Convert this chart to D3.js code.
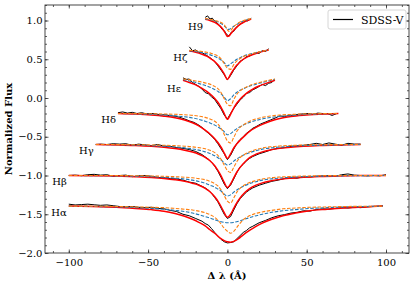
<!DOCTYPE html>
<html lang="en">
<head>
<meta charset="utf-8">
<title>Balmer lines</title>
<script src="https://d3js.org/d3.v7.min.js"></script>
<style>
  body { margin: 0; background: #fff; }
  text { font-family: "DejaVu Serif", serif; fill: #000; }
  .tick text { font-size: 10px; }
  .axis path.domain { display: none; }
  .axis line { stroke: #333; stroke-width: 0.8; }
</style>
</head>
<body>
<script>
// line order: bottom (Halpha) to top (H9)
var lineNames = ["Hα", "Hβ", "Hγ", "Hδ", "Hε", "Hζ", "H9"];
var offsets = [-2.4, -2.0, -1.6, -1.2, -0.8, -0.4, 0.0];

var xTicks = [-100, -50, 0, 50, 100];
var yTicks = [-2.0, -1.5, -1.0, -0.5, 0.0, 0.5, 1.0];

// model grid (delta lambda, Angstrom)
var modelX = [
  [-100,-85,-70,-58,-48,-40,-33,-27,-22,-18,-14,-11,-8,-5,-2,0,2,4,7,10,13,17,22,28,35,43,52,63,75,87,98],
  [-100,-85,-70,-58,-48,-40,-33,-27,-22,-18,-14,-11,-8,-6,-4,-2,0,2,4,6,8,11,14,18,22,27,33,40,48,58,70,85,100],
  [-83,-70,-58,-48,-40,-33,-27,-22,-18,-14,-11,-8,-6,-4,-2,0,2,4,6,8,11,14,18,22,27,33,40,48,58,70,84],
  [-69,-58,-48,-40,-33,-27,-22,-18,-14,-11,-8,-6,-4,-2,0,2,4,6,8,11,14,18,22,27,33,40,48,58,70],
  [-28,-24,-20,-16,-13,-10,-8,-6,-4,-2,0,2,4,6,8,10,13,16,20,24,30],
  [-24,-20,-16,-13,-10,-8,-6,-4,-2,0,2,4,6,8,10,13,16,20,26],
  [-14,-11,-8,-6,-4,-2,-1,0,1,2,4,6,8,11,15]
];
// combined model (red)
var modelRed = [
  [1.005,1.0,0.99,0.975,0.96,0.94,0.91,0.875,0.835,0.795,0.75,0.70,0.655,0.6,0.56,0.545,0.54,0.55,0.585,0.635,0.68,0.73,0.785,0.835,0.88,0.915,0.945,0.965,0.985,0.995,1.005],
  [1.0,0.998,0.993,0.985,0.975,0.962,0.945,0.925,0.9,0.875,0.835,0.79,0.725,0.67,0.6,0.52,0.46,0.5,0.575,0.65,0.71,0.78,0.83,0.875,0.905,0.93,0.95,0.965,0.978,0.988,0.995,0.999,1.0],
  [1.0,0.995,0.988,0.978,0.965,0.948,0.927,0.903,0.875,0.835,0.79,0.725,0.665,0.595,0.51,0.445,0.49,0.57,0.645,0.705,0.775,0.83,0.875,0.905,0.93,0.95,0.966,0.978,0.988,0.995,1.0],
  [1.0,0.992,0.98,0.965,0.945,0.915,0.88,0.84,0.785,0.735,0.675,0.625,0.565,0.49,0.42,0.48,0.555,0.61,0.655,0.715,0.77,0.82,0.86,0.9,0.935,0.96,0.977,0.99,1.0],
  [1.03,1.0,0.97,0.925,0.885,0.835,0.795,0.745,0.68,0.6,0.525,0.59,0.67,0.735,0.785,0.825,0.875,0.915,0.955,0.985,1.03],
  [1.005,0.99,0.965,0.94,0.9,0.87,0.83,0.775,0.71,0.64,0.705,0.77,0.825,0.865,0.9,0.935,0.96,0.99,1.02],
  [1.015,1.0,0.975,0.95,0.915,0.86,0.825,0.795,0.8,0.825,0.875,0.915,0.95,0.985,1.02]
];
// component 1 (blue dashed)
var modelBlue = [
  [1.005,1.0,0.995,0.985,0.975,0.965,0.95,0.935,0.915,0.895,0.87,0.85,0.83,0.81,0.795,0.79,0.79,0.795,0.81,0.83,0.85,0.875,0.9,0.925,0.945,0.96,0.975,0.985,0.995,1.0,1.005],
  [1.0,0.998,0.995,0.99,0.985,0.977,0.967,0.955,0.94,0.922,0.9,0.875,0.85,0.825,0.8,0.76,0.735,0.75,0.785,0.815,0.84,0.87,0.895,0.92,0.94,0.955,0.967,0.977,0.985,0.99,0.995,0.998,1.0],
  [1.0,0.997,0.992,0.985,0.977,0.968,0.957,0.943,0.927,0.905,0.883,0.855,0.83,0.8,0.765,0.735,0.75,0.785,0.815,0.84,0.87,0.895,0.92,0.94,0.955,0.967,0.977,0.985,0.99,0.996,1.0],
  [1.0,0.995,0.988,0.98,0.97,0.958,0.943,0.925,0.9,0.877,0.85,0.828,0.8,0.765,0.725,0.74,0.775,0.805,0.83,0.86,0.885,0.91,0.93,0.948,0.963,0.975,0.985,0.993,1.0],
  [1.04,1.02,1.0,0.975,0.955,0.93,0.91,0.885,0.855,0.81,0.765,0.79,0.84,0.875,0.9,0.92,0.945,0.965,0.99,1.01,1.04],
  [1.01,1.0,0.985,0.97,0.95,0.935,0.915,0.89,0.855,0.815,0.84,0.87,0.9,0.92,0.94,0.96,0.975,0.995,1.02],
  [1.02,1.01,0.995,0.98,0.96,0.93,0.91,0.89,0.885,0.895,0.925,0.95,0.975,1.0,1.025]
];
// component 2 (orange dashed)
var modelOrange = [
  [1.005,1.004,1.0,0.995,0.99,0.985,0.975,0.965,0.955,0.94,0.92,0.895,0.86,0.8,0.72,0.68,0.655,0.68,0.76,0.83,0.87,0.905,0.93,0.95,0.97,0.98,0.99,0.995,1.0,1.003,1.005],
  [1.0,1.0,0.999,0.997,0.994,0.99,0.985,0.978,0.97,0.96,0.945,0.925,0.895,0.865,0.815,0.74,0.67,0.645,0.71,0.785,0.835,0.88,0.91,0.935,0.955,0.97,0.98,0.988,0.993,0.997,0.999,1.0,1.0],
  [1.0,0.999,0.997,0.994,0.99,0.985,0.978,0.97,0.96,0.945,0.925,0.895,0.86,0.81,0.735,0.665,0.64,0.705,0.78,0.83,0.875,0.905,0.935,0.955,0.97,0.98,0.988,0.993,0.997,0.999,1.0],
  [1.0,0.999,0.997,0.994,0.99,0.984,0.976,0.966,0.95,0.93,0.9,0.865,0.81,0.73,0.645,0.62,0.69,0.77,0.82,0.865,0.9,0.93,0.95,0.967,0.98,0.988,0.994,0.998,1.0],
  [1.045,1.035,1.02,1.005,0.99,0.97,0.95,0.92,0.87,0.79,0.72,0.7,0.78,0.85,0.89,0.92,0.95,0.975,1.0,1.02,1.045],
  [1.015,1.01,1.0,0.99,0.975,0.96,0.94,0.905,0.845,0.785,0.77,0.83,0.88,0.91,0.935,0.955,0.975,0.995,1.02],
  [1.025,1.015,1.0,0.99,0.975,0.945,0.915,0.88,0.86,0.87,0.92,0.955,0.98,1.005,1.025]
];

// observed SDSS-V spectrum
var obsX = [
  [-100,-96,-92,-88,-84,-80,-76,-72,-68,-64,-60,-56,-52,-48,-44,-40,-36,-32,-28,-24,-20,-16,-14,-12,-10,-8,-6,-4,-2,0,2,4,6,8,10,12,14,16,20,24,28,32,36,40,44,48,52,56,60,64,68,72,76,80,84,88,92,96,98],
  [-100,-96,-92,-88,-84,-80,-76,-72,-68,-64,-60,-56,-52,-48,-44,-40,-36,-32,-28,-24,-20,-16,-14,-12,-10,-8,-6,-4,-2,0,2,4,6,8,10,12,14,16,20,24,28,32,36,40,44,48,52,56,60,64,68,72,76,80,84,88,92,96,100],
  [-83,-80,-76,-72,-68,-64,-60,-56,-52,-48,-44,-40,-36,-32,-28,-24,-20,-16,-14,-12,-10,-8,-6,-4,-2,0,2,4,6,8,10,12,14,16,20,24,28,32,36,40,44,48,52,56,60,64,68,72,76,80,84],
  [-69,-66,-63,-60,-57,-54,-51,-48,-45,-42,-39,-36,-33,-30,-27,-24,-21,-18,-16,-14,-12,-10,-8,-6,-4,-2,0,2,4,6,8,10,12,14,16,18,21,24,27,30,33,36,39,42,45,48,51,54,57,60,63,66,69],
  [-28,-26,-24,-22,-20,-18,-16,-14,-12,-10,-8,-6,-4,-2,0,2,4,6,8,10,12,14,16,18,20,22,24,26,28,30],
  [-24,-22,-20,-18,-16,-14,-12,-10,-8,-6,-4,-2,0,2,4,6,8,10,12,14,16,18,20,22,24,26],
  [-14,-12.5,-11,-9.5,-8,-6.5,-5,-3.5,-2,-0.5,1,2.5,4,5.5,7,8.5,10,11.5,13,15]
];
var obsFlux = [
  [1.03,1.02,1.025,1.03,1.022,1.015,1.02,1.01,1.0,0.995,1.0,0.99,0.985,0.99,0.975,0.97,0.95,0.935,0.9,0.88,0.845,0.81,0.78,0.76,0.715,0.665,0.62,0.575,0.545,0.53,0.535,0.545,0.585,0.625,0.665,0.69,0.725,0.745,0.79,0.82,0.855,0.88,0.895,0.915,0.925,0.945,0.94,0.96,0.97,0.965,0.975,0.985,0.98,0.99,0.985,0.995,1.0,1.005,1.01],
  [1.0,1.005,0.998,1.01,1.015,1.005,1.01,0.99,1.0,1.005,0.985,0.995,1.0,0.99,0.975,0.97,0.96,0.955,0.94,0.915,0.9,0.86,0.84,0.81,0.77,0.715,0.66,0.58,0.5,0.445,0.47,0.555,0.635,0.7,0.745,0.785,0.815,0.84,0.875,0.9,0.925,0.94,0.96,0.97,0.965,0.985,0.98,0.99,0.995,1.0,0.99,1.01,1.02,1.005,1.0,0.995,1.0,0.995,1.01],
  [1.0,1.005,1.0,1.01,1.005,1.01,0.99,1.005,0.995,0.985,1.0,0.98,0.975,0.96,0.95,0.935,0.91,0.87,0.84,0.81,0.77,0.72,0.655,0.575,0.49,0.43,0.475,0.555,0.64,0.71,0.745,0.79,0.82,0.845,0.88,0.905,0.935,0.95,0.96,0.975,0.985,0.99,1.0,1.015,1.0,1.02,1.005,0.99,1.015,1.005,1.005],
  [1.01,1.02,1.005,1.015,1.0,1.01,0.995,1.0,0.995,0.98,0.985,0.97,0.965,0.95,0.93,0.905,0.885,0.85,0.82,0.78,0.745,0.71,0.665,0.61,0.545,0.48,0.405,0.46,0.54,0.615,0.665,0.7,0.745,0.775,0.81,0.83,0.865,0.89,0.915,0.94,0.97,0.96,0.975,0.98,0.99,0.995,1.0,0.99,1.005,1.0,1.0,0.975,1.0],
  [1.06,1.04,1.045,1.0,0.975,0.95,0.915,0.87,0.855,0.815,0.78,0.72,0.66,0.58,0.53,0.6,0.665,0.72,0.775,0.81,0.86,0.87,0.905,0.925,0.95,0.975,0.96,0.99,1.0,1.045],
  [1.06,1.01,1.02,0.99,0.985,0.96,0.935,0.905,0.87,0.815,0.76,0.7,0.635,0.69,0.76,0.815,0.875,0.895,0.935,0.94,0.965,0.985,0.975,1.01,1.0,1.035],
  [1.04,1.06,1.02,1.03,0.99,0.965,0.94,0.89,0.87,0.82,0.8,0.85,0.86,0.91,0.935,0.96,0.975,1.0,0.995,1.03]
];

var w = 416, h = 286;
var plotL = 45, plotR = 409, plotT = 5, plotB = 253;

var svg = d3.select("body").append("svg")
    .attr("width", w)
    .attr("height", h);

var x = d3.scaleLinear().domain([-115, 114.5]).range([plotL, plotR]);
var y = d3.scaleLinear().domain([-2.0, 1.2]).range([plotB, plotT]);

// clip to the axes box
svg.append("clipPath").attr("id", "clip")
  .append("rect")
    .attr("x", plotL).attr("y", plotT)
    .attr("width", plotR - plotL).attr("height", plotB - plotT);

var plot = svg.append("g").attr("clip-path", "url(#clip)");

function pts(xs, vs, off) {
  return xs.map(function(d, j) { return [d, vs[j] + off]; });
}

var lineObs = d3.line().x(function(d) { return x(d[0]); }).y(function(d) { return y(d[1]); });
var lineModel = d3.line().x(function(d) { return x(d[0]); }).y(function(d) { return y(d[1]); })
    .curve(d3.curveMonotoneX);

lineNames.forEach(function(name, i) {
  var g = plot.append("g");
  g.append("path")
    .attr("d", lineObs(pts(obsX[i], obsFlux[i], offsets[i])))
    .attr("fill", "none").attr("stroke", "#000").attr("stroke-width", 1);
  g.append("path")
    .attr("d", lineModel(pts(modelX[i], modelRed[i], offsets[i])))
    .attr("fill", "none").attr("stroke", "#ff0000").attr("stroke-width", 1.5);
  g.append("path")
    .attr("d", lineModel(pts(modelX[i], modelBlue[i], offsets[i])))
    .attr("fill", "none").attr("stroke", "#1f77b4").attr("stroke-width", 1.1)
    .attr("stroke-dasharray", "3.5,1.6");
  g.append("path")
    .attr("d", lineModel(pts(modelX[i], modelOrange[i], offsets[i])))
    .attr("fill", "none").attr("stroke", "#ff7f0e").attr("stroke-width", 1.1)
    .attr("stroke-dasharray", "3.5,1.6");

  // line label left of the spectrum
  svg.append("text")
    .attr("x", x(obsX[i][0]) - 2)
    .attr("y", y(1 + offsets[i]) + 9)
    .attr("text-anchor", "end")
    .style("font-size", "10px")
    .text(name);
});

// axes, ticks pointing inward
var xMinor = d3.range(-110, 111, 10);
var yMinor = d3.range(-20, 13, 1).map(function(d) { return d / 10; });

svg.append("g").attr("class", "axis")
  .attr("transform", "translate(0," + plotB + ")")
  .call(d3.axisBottom(x).tickValues(xMinor).tickSize(-2).tickFormat(""));
svg.append("g").attr("class", "axis")
  .attr("transform", "translate(0," + plotB + ")")
  .call(d3.axisBottom(x).tickValues(xTicks).tickSize(-3.5).tickPadding(5.5).tickFormat(d3.format("d")));
svg.append("g").attr("class", "axis")
  .attr("transform", "translate(0," + plotT + ")")
  .call(d3.axisTop(x).tickValues(xMinor).tickSize(-2).tickFormat(""));
svg.append("g").attr("class", "axis")
  .attr("transform", "translate(0," + plotT + ")")
  .call(d3.axisTop(x).tickValues(xTicks).tickSize(-3.5).tickFormat(""));

svg.append("g").attr("class", "axis")
  .attr("transform", "translate(" + plotL + ",0)")
  .call(d3.axisLeft(y).tickValues(yMinor).tickSize(-2).tickFormat(""));
svg.append("g").attr("class", "axis")
  .attr("transform", "translate(" + plotL + ",0)")
  .call(d3.axisLeft(y).tickValues(yTicks).tickSize(-3.5).tickPadding(2.5).tickFormat(d3.format(".1f")));
svg.append("g").attr("class", "axis")
  .attr("transform", "translate(" + plotR + ",0)")
  .call(d3.axisRight(y).tickValues(yMinor).tickSize(-2).tickFormat(""));
svg.append("g").attr("class", "axis")
  .attr("transform", "translate(" + plotR + ",0)")
  .call(d3.axisRight(y).tickValues(yTicks).tickSize(-3.5).tickFormat(""));

svg.selectAll(".tick text").attr("fill", "#000").style("font-family", "DejaVu Serif, serif");

// frame
svg.append("rect")
  .attr("x", plotL).attr("y", plotT)
  .attr("width", plotR - plotL).attr("height", plotB - plotT)
  .attr("fill", "none").attr("stroke", "#333").attr("stroke-width", 0.9);

// axis titles
svg.append("text")
  .attr("x", (plotL + plotR) / 2)
  .attr("y", 279)
  .attr("text-anchor", "middle")
  .style("font-size", "10px").style("font-weight", "bold")
  .text("Δ λ (Å)");

svg.append("text")
  .attr("transform", "translate(12," + (plotT + plotB) / 2 + ") rotate(-90)")
  .attr("text-anchor", "middle")
  .style("font-size", "10px").style("font-weight", "bold")
  .text("Normalized Flux");

// legend
var lg = svg.append("g").attr("transform", "translate(328,10)");
lg.append("rect")
  .attr("width", 78).attr("height", 19).attr("rx", 2)
  .attr("fill", "#fff").attr("fill-opacity", 0.8)
  .attr("stroke", "#ccc").attr("stroke-width", 0.8);
lg.append("line")
  .attr("x1", 5).attr("x2", 25).attr("y1", 9.5).attr("y2", 9.5)
  .attr("stroke", "#000").attr("stroke-width", 1.2);
lg.append("text")
  .attr("x", 33).attr("y", 13.5)
  .style("font-size", "11px")
  .text("SDSS-V");
</script>
</body>
</html>
